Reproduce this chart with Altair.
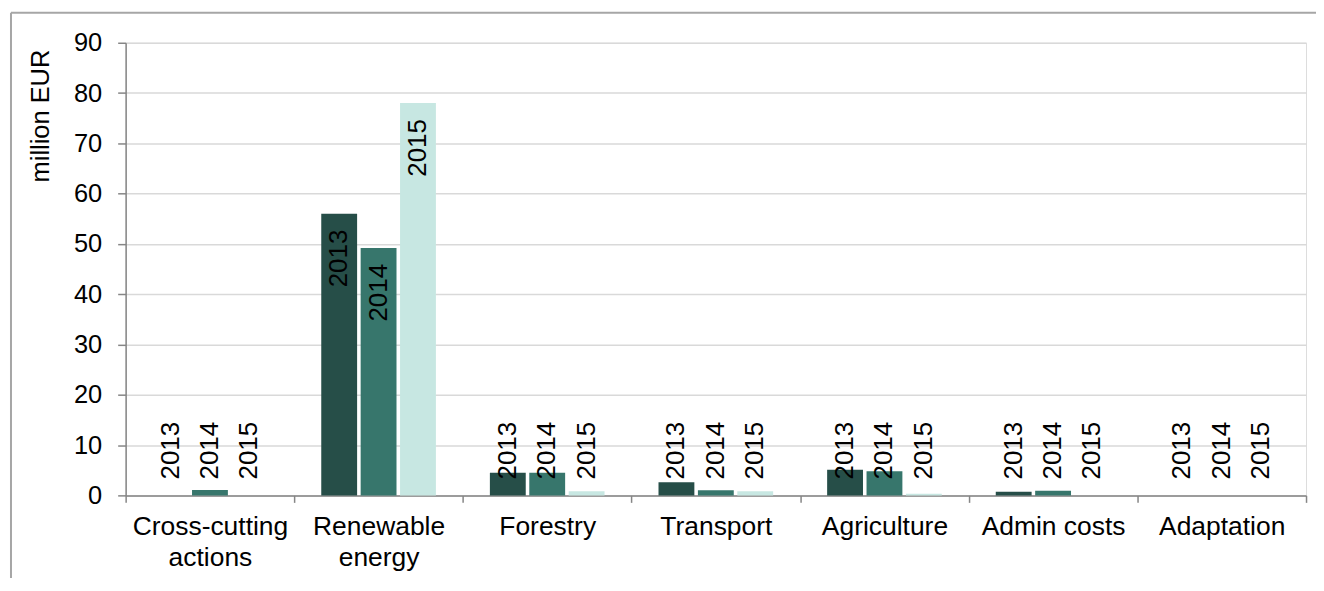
import altair as alt
import pandas as pd

categories = ["Cross-cutting actions", "Renewable energy", "Forestry", "Transport",
              "Agriculture", "Admin costs", "Adaptation"]
years = ["2013", "2014", "2015"]
v2013 = [0.0, 56.0, 4.5, 2.6, 5.1, 0.7, 0.0]
v2014 = [1.05, 49.2, 4.5, 1.0, 4.8, 0.9, 0.0]
v2015 = [0.0, 78.0, 0.8, 0.8, 0.3, 0.0, 0.0]
y_ticks = [0, 10, 20, 30, 40, 50, 60, 70, 80, 90]

series = {"2013": v2013, "2014": v2014, "2015": v2015}
rows = []
for yr in years:
    for c, v in zip(categories, series[yr]):
        rows.append({"category": c, "year": yr, "value": v})
df = pd.DataFrame(rows)

colors = ["#264e48", "#37766c", "#c7e7e2"]
W, H = 1184, 454
FONT = "Liberation Sans"

x_enc = alt.X("category:N", sort=categories, title=None,
              scale=alt.Scale(paddingInner=0, paddingOuter=0),
              axis=alt.Axis(labelAngle=0, tickBand="extent", tickSize=7,
                            domainColor="#868686", tickColor="#868686",
                            domainWidth=1.5, tickWidth=1.5,
                            labelFontSize=26.5, labelColor="black", labelFont=FONT,
                            labelPadding=11, labelLineHeight=31.5, labelBaseline="top",
                            labelExpr="datum.label == 'Cross-cutting actions' ? ['Cross-cutting','actions'] : (datum.label == 'Renewable energy' ? ['Renewable','energy'] : datum.label)"))
xoff = alt.XOffset("year:N", sort=years,
                   scale=alt.Scale(paddingInner=0.09, paddingOuter=0.685))
y_scale = alt.Scale(domain=[0, 90], nice=False)

base = alt.Chart(df)

bars = base.mark_bar().encode(
    x=x_enc,
    xOffset=xoff,
    y=alt.Y("value:Q", scale=y_scale, title="million EUR",
            axis=alt.Axis(values=y_ticks, tickSize=8, labelPadding=16,
                          domainColor="#868686", tickColor="#868686",
                          domainWidth=1.5, tickWidth=1.5,
                          gridColor="#d9d9d9", gridWidth=1.5,
                          labelFontSize=25.5, labelColor="black", labelFont=FONT,
                          titleFontSize=25.5, titleFont=FONT, titleFontWeight="normal",
                          titleColor="black", titleAngle=270, titleAlign="center",
                          titleBaseline="middle", titleX=-85, titleY=73)),
    color=alt.Color("year:N", sort=years, legend=None,
                    scale=alt.Scale(domain=years, range=colors)),
)

labels = base.transform_calculate(
    lpos="max(datum.value, 17.8)"
).mark_text(angle=270, align="right", baseline="middle", dx=-16,
            fontSize=26, font=FONT, color="black").encode(
    x=alt.X("category:N", sort=categories),
    xOffset=alt.XOffset("year:N", sort=years),
    y=alt.Y("lpos:Q", scale=y_scale),
    text="year:N",
)

frame_left = alt.Chart(alt.Data(values=[{"a": 1}])).mark_rule(
    color="#a6a6a6", strokeWidth=2, clip=False).encode(
    x=alt.value(-115), y=alt.value(-30), y2=alt.value(H + 90))
frame_top = alt.Chart(alt.Data(values=[{"a": 1}])).mark_rule(
    color="#a6a6a6", strokeWidth=2, clip=False).encode(
    y=alt.value(-30), x=alt.value(-115), x2=alt.value(W + 20))

chart = alt.layer(bars, labels, frame_left, frame_top).properties(
    width=W, height=H,
    autosize=alt.AutoSizeParams(type="none"),
    padding={"left": 118, "top": 34, "right": 10, "bottom": 82},
).configure_view(stroke=None).configure(font=FONT)

chart.save("out.html", embed_options={"renderer": "svg", "actions": False})
